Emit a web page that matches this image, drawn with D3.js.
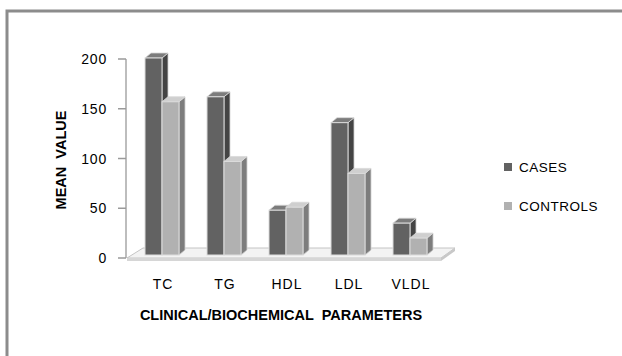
<!DOCTYPE html>
<html><head><meta charset="utf-8">
<script src="https://cdn.jsdelivr.net/npm/d3@7"></script>
<style>
html,body{margin:0;padding:0;background:#fff;}
svg{display:block;font-family:"Liberation Sans",Arial,sans-serif;}
</style></head>
<body><svg id="c" width="622" height="356"></svg>
<script>
const categories = ["TC","TG","HDL","LDL","VLDL"];
const seriesNames = ["CASES","CONTROLS"];
const casesValues = [198,159,45,133,32];
const controlsValues = [154,94,48,82,17];
const yTicks = [0,50,100,150,200];

const svg = d3.select("#c");
const front = {CASES:"#626262", CONTROLS:"#b1b1b1"};
const side  = {CASES:"#444444", CONTROLS:"#7d7d7d"};
const topc  = {CASES:"#7c7c7c", CONTROLS:"#cfcfcf"};

// frame
svg.append("path").attr("d","M7,360 V11 H630").attr("fill","none").attr("stroke","#8c8c8c").attr("stroke-width",3);

const y = d3.scaleLinear().domain([0,200]).range([258,59]);
const x0 = d3.scaleBand().domain(categories).range([117,455]).paddingInner(0.4516).paddingOuter(0.4516);
const x1 = d3.scaleBand().domain(seriesNames).range([0,x0.bandwidth()]);
const dx = 6, dy = -5, baseShift = -3;

// floor
const fr = x0.range()[1];
svg.append("path")
  .attr("d",`M${127},${y(0)} L${143},${y(0)-10} L${fr},${y(0)-10} L${fr-14},${y(0)} Z`)
  .attr("fill","#f3f3f3").attr("stroke","#c4c4c4").attr("stroke-width",1);
svg.append("rect").attr("x",127).attr("y",y(0)).attr("width",fr-14-127).attr("height",3).attr("fill","#d6d6d6");
svg.append("path").attr("d",`M${fr-14},${y(0)} L${fr},${y(0)-10} L${fr},${y(0)-7} L${fr-14},${y(0)+3}Z`).attr("fill","#c8c8c8");

// y axis
svg.append("line").attr("x1",126).attr("x2",126).attr("y1",y(200)).attr("y2",y(0)).attr("stroke","#bdbdbd").attr("stroke-width",2);
const ya = svg.append("g");
yTicks.forEach(t=>{
  ya.append("line").attr("x1",118).attr("x2",126).attr("y1",y(t)).attr("y2",y(t)).attr("stroke","#9a9a9a").attr("stroke-width",1.5);
  ya.append("text").attr("x",107).attr("y",y(t)).attr("dy","0.36em").attr("text-anchor","end")
    .attr("font-size",14).attr("letter-spacing","0.8px").attr("fill","#000").text(t);
});

// bars
const data = [];
categories.forEach((c,i)=>{
  data.push({c, s:"CASES", v:casesValues[i]});
  data.push({c, s:"CONTROLS", v:controlsValues[i]});
});
const gb = svg.append("g");
data.forEach(d=>{
  const bx = x0(d.c)+x1(d.s), bw = x1.bandwidth();
  const yt = y(d.v)+baseShift, yb = y(0)+baseShift;
  const g = gb.append("g");
  g.append("path").attr("d",`M${bx+bw},${yt} L${bx+bw+dx},${yt+dy} L${bx+bw+dx},${yb+dy} L${bx+bw},${yb} Z`)
    .attr("fill",side[d.s]).attr("stroke","#d0d0d0").attr("stroke-width",0.8);
  g.append("path").attr("d",`M${bx},${yt} L${bx+dx},${yt+dy} L${bx+bw+dx},${yt+dy} L${bx+bw},${yt} Z`)
    .attr("fill",topc[d.s]).attr("stroke","#d8d8d8").attr("stroke-width",0.8);
  g.append("rect").attr("x",bx).attr("y",yt).attr("width",bw).attr("height",yb-yt)
    .attr("fill",front[d.s]).attr("stroke","#dcdcdc").attr("stroke-width",1);
});

// category labels
categories.forEach(c=>{
  svg.append("text").attr("x",x0(c)+x0.bandwidth()/2+1).attr("y",284).attr("dy","0.36em")
    .attr("text-anchor","middle").attr("font-size",14).attr("letter-spacing","1px").text(c);
});

// axis titles
svg.append("text").attr("x",281).attr("y",315).attr("dy","0.36em").attr("text-anchor","middle")
  .attr("font-size",14.5).attr("font-weight","bold").style("white-space","pre")
  .text("CLINICAL/BIOCHEMICAL  PARAMETERS");
svg.append("text").attr("transform","translate(61,160) rotate(-90)").attr("dy","0.36em").attr("text-anchor","middle")
  .attr("font-size",14.5).attr("font-weight","bold").style("white-space","pre").text("MEAN  VALUE");

// legend
const lg = svg.append("g");
seriesNames.forEach((s,i)=>{
  const cy = 167 + i*39;
  lg.append("rect").attr("x",504).attr("y",cy-4).attr("width",8).attr("height",8).attr("fill",front[s]);
  lg.append("text").attr("x",519).attr("y",cy).attr("dy","0.36em").attr("font-size",13.5).attr("letter-spacing","0.5px").text(s);
});
</script></body></html>
